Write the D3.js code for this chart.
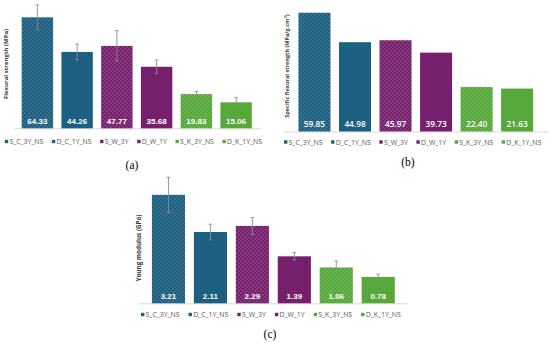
<!DOCTYPE html>
<html lang="en">
<head>
<meta charset="utf-8">
<title>Flexural strength / Young modulus</title>
<script src="https://cdn.jsdelivr.net/npm/d3@7"></script>
<style>
  body { margin: 0; background: #fff; }
  svg { display: block; }
</style>
</head>
<body>
<script>
// categories shared by the three panels
var categories = ["S_C_3Y_NS", "D_C_1Y_NS", "S_W_3Y", "D_W_1Y", "S_K_3Y_NS", "D_K_1Y_NS"];
var groups = ["C", "C", "W", "W", "K", "K"];
var dotted = [true, false, true, false, true, false];

// (a) flexural strength
var flexural = [64.33, 44.26, 47.77, 35.68, 19.83, 15.06];
var flexuralErr = [7.2, 4.6, 8.9, 3.9, 1.6, 2.7];
// (b) specific flexural strength
var specific = [59.85, 44.98, 45.97, 39.73, 22.40, 21.63];
// (c) young modulus
var young = [3.21, 2.11, 2.29, 1.39, 1.06, 0.78];
var youngErr = [0.52, 0.23, 0.25, 0.11, 0.19, 0.08];

var colors = { C: "#1c5f80", W: "#76206d", K: "#57a83b" };

var svg = d3.select("body").append("svg")
    .attr("width", 550)
    .attr("height", 343);

var defs = svg.append("defs");
Object.keys(colors).forEach(function (k) {
    var p = defs.append("pattern")
        .attr("id", "dots" + k)
        .attr("patternUnits", "userSpaceOnUse")
        .attr("width", 4)
        .attr("height", 4);
    p.append("rect").attr("width", 4).attr("height", 4).attr("fill", colors[k]);
    p.append("circle").attr("cx", 1).attr("cy", 1).attr("r", 0.6).attr("fill", "#fff").attr("opacity", 0.5);
    p.append("circle").attr("cx", 3).attr("cy", 3).attr("r", 0.6).attr("fill", "#fff").attr("opacity", 0.5);
});

function fillFor(i) {
    return dotted[i] ? "url(#dots" + groups[i] + ")" : colors[groups[i]];
}

function drawPanel(cfg) {
    var g = svg.append("g");

    var x = d3.scaleBand()
        .domain(categories)
        .range(cfg.xRange)
        .paddingInner(0.21)
        .paddingOuter(0.105);

    var y = d3.scaleLinear()
        .domain([0, cfg.max])
        .range([cfg.base, cfg.top]);

    // baseline
    g.append("line")
        .attr("x1", cfg.lineX[0]).attr("x2", cfg.lineX[1])
        .attr("y1", cfg.base + 0.5).attr("y2", cfg.base + 0.5)
        .attr("stroke", "#d9d9d9")
        .attr("stroke-width", 1);

    g.selectAll(".bar")
        .data(cfg.values)
        .enter()
        .append("rect")
        .attr("x", function (d, i) { return x(categories[i]); })
        .attr("width", x.bandwidth())
        .attr("y", function (d) { return y(d); })
        .attr("height", function (d) { return y(0) - y(d); })
        .attr("fill", function (d, i) { return fillFor(i); });

    if (cfg.errors) {
        var eb = g.selectAll(".err")
            .data(cfg.values)
            .enter()
            .append("g")
            .attr("stroke", "#8c8c8c")
            .attr("stroke-width", 0.9);
        eb.append("line")
            .attr("x1", function (d, i) { return x(categories[i]) + x.bandwidth() / 2; })
            .attr("x2", function (d, i) { return x(categories[i]) + x.bandwidth() / 2; })
            .attr("y1", function (d, i) { return y(d + cfg.errors[i]); })
            .attr("y2", function (d, i) { return y(d - cfg.errors[i]); });
        eb.append("line")
            .attr("x1", function (d, i) { return x(categories[i]) + x.bandwidth() / 2 - 1.8; })
            .attr("x2", function (d, i) { return x(categories[i]) + x.bandwidth() / 2 + 1.8; })
            .attr("y1", function (d, i) { return y(d + cfg.errors[i]); })
            .attr("y2", function (d, i) { return y(d + cfg.errors[i]); });
        eb.append("line")
            .attr("x1", function (d, i) { return x(categories[i]) + x.bandwidth() / 2 - 1.8; })
            .attr("x2", function (d, i) { return x(categories[i]) + x.bandwidth() / 2 + 1.8; })
            .attr("y1", function (d, i) { return y(d - cfg.errors[i]); })
            .attr("y2", function (d, i) { return y(d - cfg.errors[i]); });
    }

    // value labels
    g.selectAll(".val")
        .data(cfg.values)
        .enter()
        .append("text")
        .attr("x", function (d, i) { return x(categories[i]) + x.bandwidth() / 2; })
        .attr("y", cfg.base - 4.8)
        .attr("text-anchor", "middle")
        .attr("font-family", cfg.valFont)
        .attr("font-weight", cfg.valWeight)
        .attr("font-size", cfg.valSize)
        .attr("fill", "#fff")
        .text(function (d) { return cfg.fmt(d); });

    // y title
    g.append("text")
        .attr("transform", "translate(" + cfg.titleX + "," + cfg.titleY + ") rotate(-90)")
        .attr("text-anchor", "middle")
        .attr("font-family", "Open Sans, sans-serif")
        .attr("font-weight", "bold")
        .attr("font-size", cfg.titleSize)
        .attr("fill", "#404040")
        .html(cfg.title);

    // legend
    var lg = g.append("g").attr("transform", "translate(0," + cfg.legendY + ")");
    var cx = cfg.legendX;
    categories.forEach(function (c, i) {
        lg.append("rect")
            .attr("x", cx).attr("y", -2.2)
            .attr("width", 3.4).attr("height", 3.4)
            .attr("fill", colors[groups[i]]);
        var t = lg.append("text")
            .attr("x", cx + 4.6)
            .attr("y", 0.5)
            .attr("dominant-baseline", "middle")
            .attr("font-family", "Open Sans, sans-serif")
            .attr("font-size", 6.9)
            .attr("fill", "#595959")
            .text(c);
        cx += 4.6 + t.node().getComputedTextLength() + cfg.legendGap;
    });

    // caption
    g.append("text")
        .attr("x", cfg.capX)
        .attr("y", cfg.capY)
        .attr("text-anchor", "middle")
        .attr("font-family", "Liberation Serif, serif")
        .attr("font-size", 11.5)
        .attr("fill", "#000")
        .text(cfg.caption);
}

drawPanel({
    values: flexural, errors: flexuralErr, max: 70,
    xRange: [17.5, 256], base: 128.3, top: 128.3 - 70 * 1.725,
    lineX: [14, 261],
    valFont: "Liberation Sans, Arial, sans-serif", valWeight: "bold", valSize: 8,
    fmt: d3.format(".2f"),
    title: "Flexural strength (MPa)", titleX: 7.5, titleY: 64, titleSize: 6,
    legendX: 4.8, legendY: 142, legendGap: 8.5,
    caption: "(a)", capX: 132, capY: 168.5
});

drawPanel({
    values: specific, errors: null, max: 60,
    xRange: [294.2, 537.4], base: 131.5, top: 131.5 - 60 * 1.985,
    lineX: [284, 548],
    valFont: "Open Sans, sans-serif", valWeight: "600", valSize: 8.3,
    fmt: d3.format(".2f"),
    title: "Specific flexural strength (MPa/g.cm<tspan dy='-2' font-size='4'>3</tspan><tspan dy='2'>)</tspan>",
    titleX: 288.5, titleY: 66, titleSize: 5.5,
    legendX: 284, legendY: 142.5, legendGap: 8.5,
    caption: "(b)", capX: 408, capY: 166
});

drawPanel({
    values: young, errors: youngErr, max: 3.5,
    xRange: [147.5, 399.2], base: 303.3, top: 303.3 - 3.5 * 33.8,
    lineX: [139, 408],
    valFont: "Liberation Sans, Arial, sans-serif", valWeight: "bold", valSize: 8,
    fmt: d3.format(".2f"),
    title: "Young modulus (GPa)", titleX: 140.5, titleY: 248, titleSize: 6.3,
    legendX: 141, legendY: 315, legendGap: 9,
    caption: "(c)", capX: 270, capY: 338
});
</script>
</body>
</html>
